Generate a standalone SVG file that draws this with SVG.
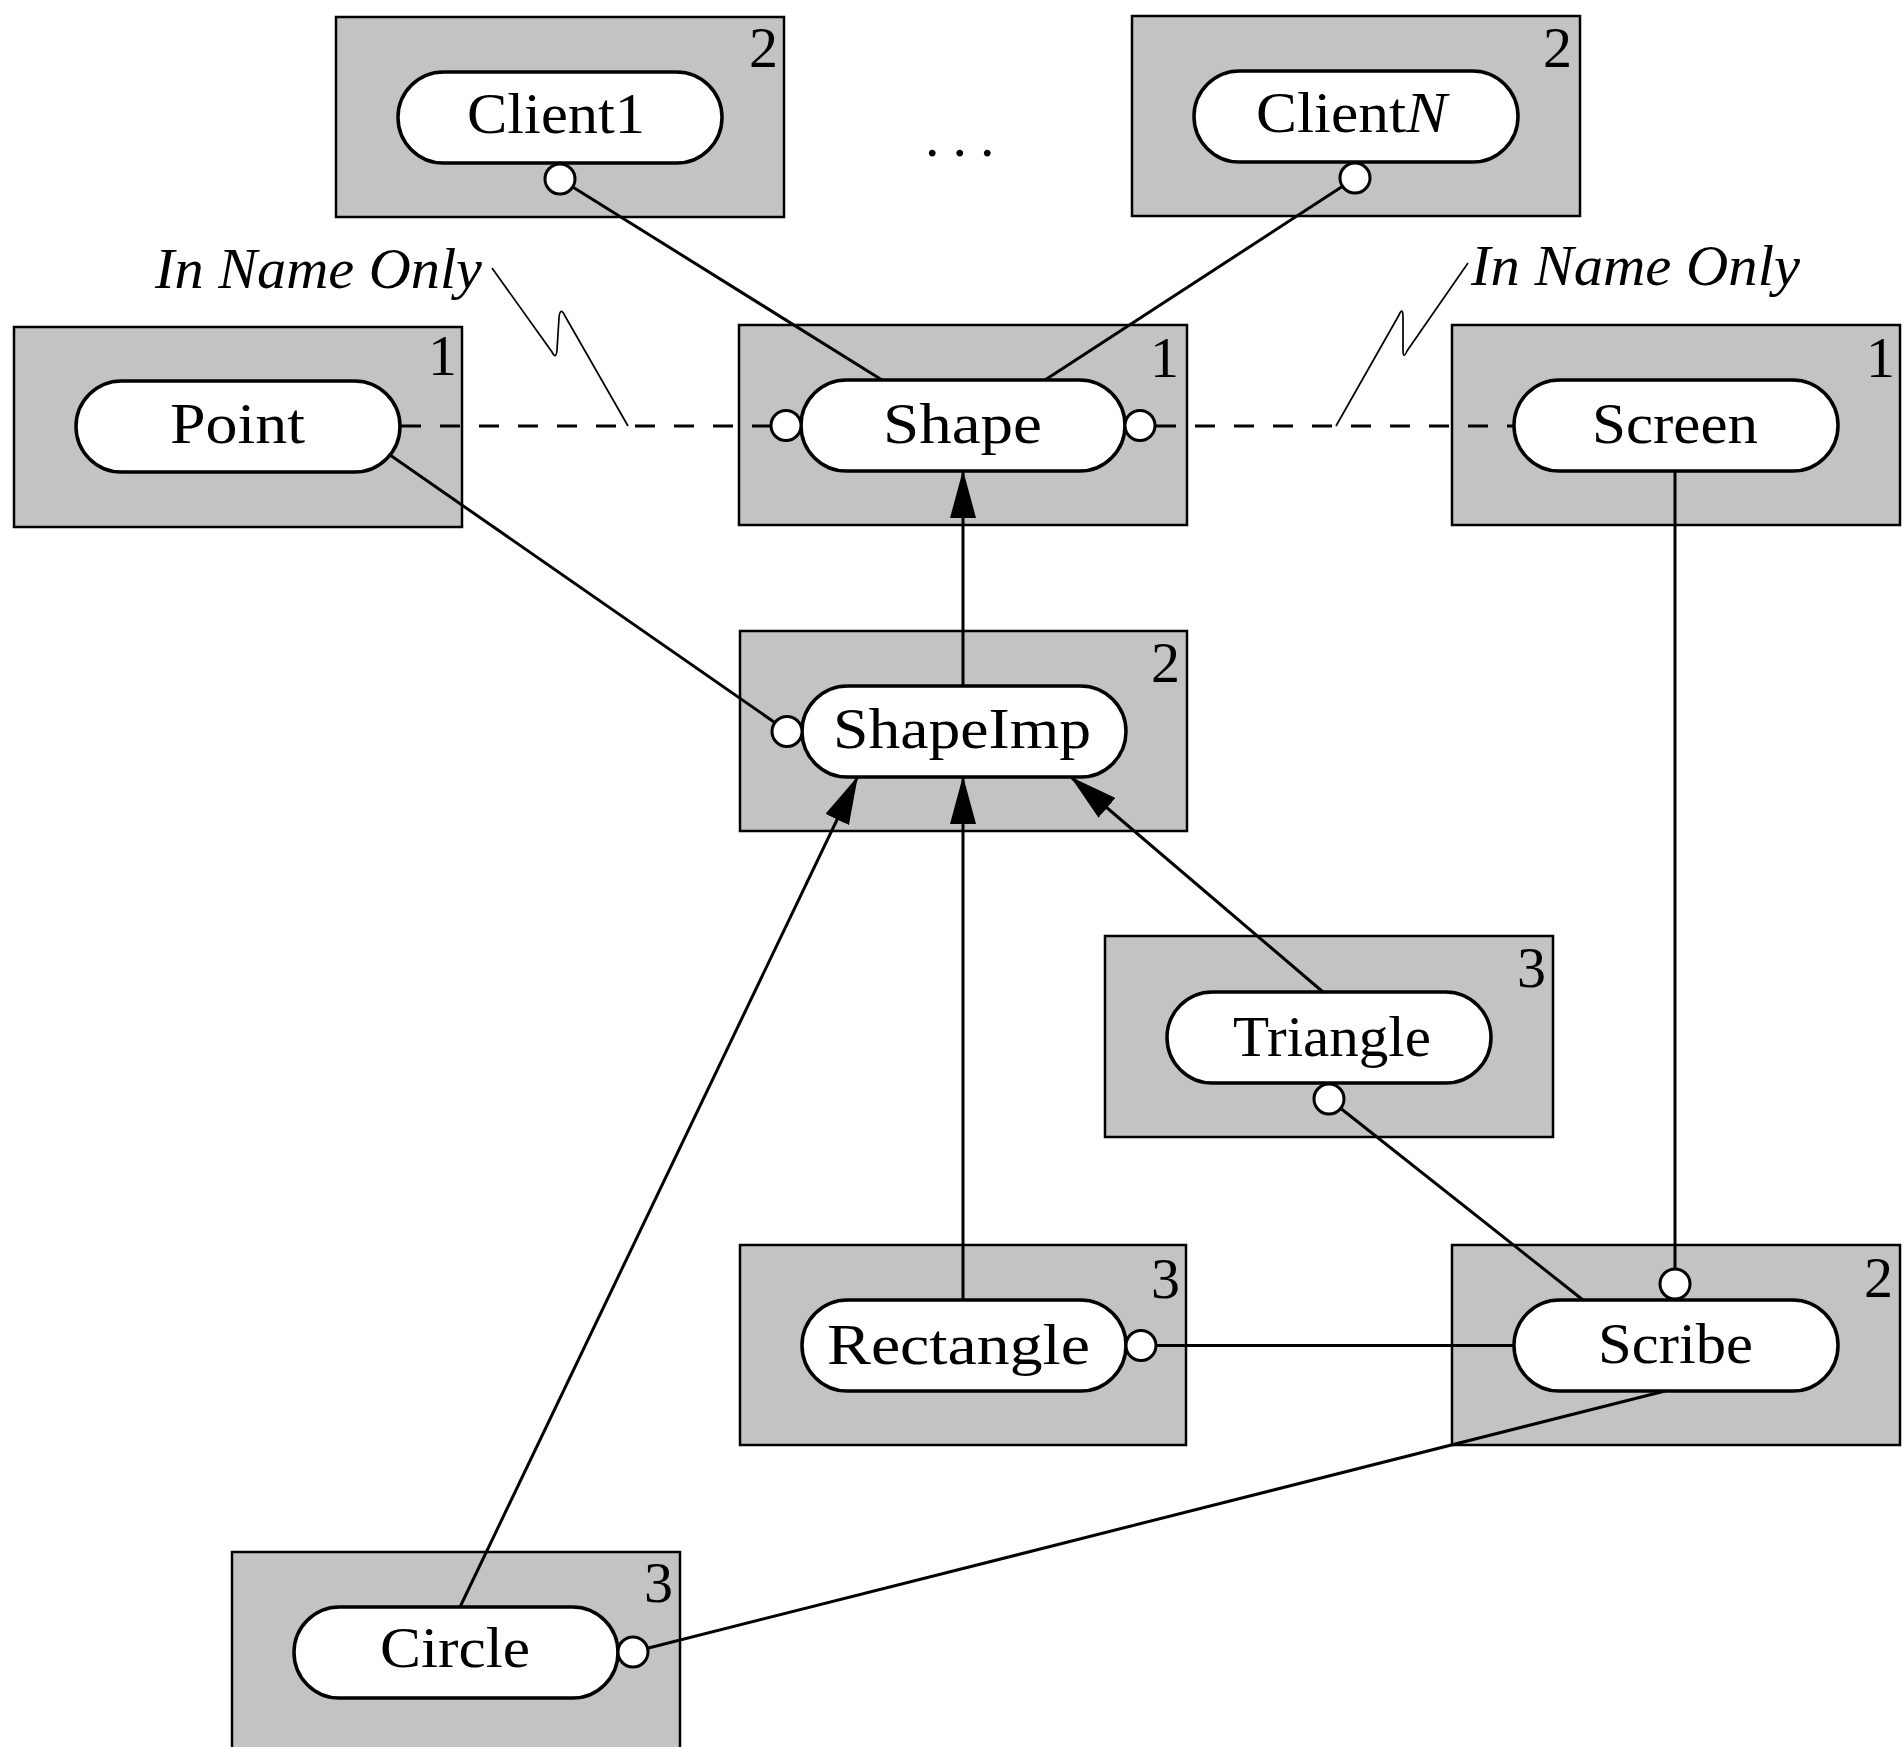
<svg xmlns="http://www.w3.org/2000/svg" width="1904" height="1747" viewBox="0 0 1904 1747">
<style>
.box{fill:#c3c3c3;stroke:#000;stroke-width:2.5}
.pill{fill:#fff;stroke:#000;stroke-width:3.5}
.lol{fill:#fff;stroke:#000;stroke-width:3}
.lbl{font-family:"Liberation Serif",serif;font-size:58px;fill:#000}
.num{font-family:"Liberation Serif",serif;font-size:58px;fill:#000;text-anchor:end}
.note{font-family:"Liberation Serif",serif;font-size:56px;font-style:italic;fill:#000}
.conn{stroke:#000;stroke-width:3;fill:none}
.dash{stroke-dasharray:20 19}
.lead{stroke-width:1.7}
</style>
<defs>
<marker id="arr" markerUnits="userSpaceOnUse" markerWidth="48" markerHeight="26" refX="46" refY="13" orient="auto">
<path d="M0,0 L48,13 L0,26 Z" fill="#000"/>
</marker>
</defs>
<rect width="1904" height="1747" fill="#fff"/>

<g id="client1">
<rect class="box" x="336" y="17" width="448" height="200"/>
<rect class="pill" x="398" y="72" width="324" height="91" rx="45.5"/>
<circle class="lol" cx="560" cy="179" r="15"/>
<text class="lbl" x="467" y="133" textLength="178" lengthAdjust="spacingAndGlyphs">Client1</text>
<text class="num" x="778" y="67">2</text>
</g>

<g id="clientN">
<rect class="box" x="1132" y="16" width="448" height="200"/>
<rect class="pill" x="1194" y="71" width="324" height="91" rx="45.5"/>
<circle class="lol" cx="1355" cy="178" r="15"/>
<text class="lbl" x="1256" y="132" textLength="191" lengthAdjust="spacingAndGlyphs">Client<tspan font-style="italic">N</tspan></text>
<text class="num" x="1572" y="67">2</text>
</g>

<g id="ellipsis">
<text class="lbl" x="925" y="156" letter-spacing="13">...</text>
</g>

<g id="point">
<rect class="box" x="14" y="327" width="448" height="200"/>
<rect class="pill" x="76" y="381" width="324" height="91" rx="45.5"/>
<text class="lbl" x="170" y="443" textLength="135" lengthAdjust="spacingAndGlyphs">Point</text>
<text class="num" x="457" y="375">1</text>
</g>

<g id="shape">
<rect class="box" x="739" y="325" width="448" height="200"/>
<rect class="pill" x="801" y="380" width="324" height="91" rx="45.5"/>
<circle class="lol" cx="786" cy="425.5" r="15"/>
<circle class="lol" cx="1140" cy="425.5" r="15"/>
<text class="lbl" x="883" y="443" textLength="159" lengthAdjust="spacingAndGlyphs">Shape</text>
<text class="num" x="1179" y="377">1</text>
</g>

<g id="screen">
<rect class="box" x="1452" y="325" width="448" height="200"/>
<rect class="pill" x="1514" y="380" width="324" height="91" rx="45.5"/>
<text class="lbl" x="1592" y="443" textLength="166" lengthAdjust="spacingAndGlyphs">Screen</text>
<text class="num" x="1895" y="377">1</text>
</g>

<g id="shapeImp">
<rect class="box" x="740" y="631" width="447" height="200"/>
<rect class="pill" x="802" y="686" width="324" height="91" rx="45.5"/>
<circle class="lol" cx="787" cy="731.5" r="15"/>
<text class="lbl" x="833" y="748" textLength="258" lengthAdjust="spacingAndGlyphs">ShapeImp</text>
<text class="num" x="1180" y="682">2</text>
</g>

<g id="triangle">
<rect class="box" x="1105" y="936" width="448" height="201"/>
<rect class="pill" x="1167" y="992" width="324" height="91" rx="45.5"/>
<circle class="lol" cx="1329" cy="1099" r="15"/>
<text class="lbl" x="1233" y="1056" textLength="198" lengthAdjust="spacingAndGlyphs">Triangle</text>
<text class="num" x="1546" y="987">3</text>
</g>

<g id="rectangle">
<rect class="box" x="740" y="1245" width="446" height="200"/>
<rect class="pill" x="802" y="1300" width="324" height="91" rx="45.5"/>
<circle class="lol" cx="1141" cy="1345.5" r="15"/>
<text class="lbl" x="827" y="1364" textLength="263" lengthAdjust="spacingAndGlyphs">Rectangle</text>
<text class="num" x="1180" y="1298">3</text>
</g>

<g id="scribe">
<rect class="box" x="1452" y="1245" width="448" height="200"/>
<rect class="pill" x="1514" y="1300" width="324" height="91" rx="45.5"/>
<circle class="lol" cx="1675" cy="1284" r="15"/>
<text class="lbl" x="1598" y="1363" textLength="155" lengthAdjust="spacingAndGlyphs">Scribe</text>
<text class="num" x="1893" y="1297">2</text>
</g>

<g id="circle">
<rect class="box" x="232" y="1552" width="448" height="210"/>
<rect class="pill" x="294" y="1607" width="324" height="91" rx="45.5"/>
<circle class="lol" cx="633" cy="1652" r="15"/>
<text class="lbl" x="380" y="1667" textLength="150" lengthAdjust="spacingAndGlyphs">Circle</text>
<text class="num" x="673" y="1602">3</text>
</g>

<g id="notes">
<text class="note" x="155" y="288" textLength="327" lengthAdjust="spacingAndGlyphs">In Name Only</text>
<text class="note" x="1471" y="285" textLength="329" lengthAdjust="spacingAndGlyphs">In Name Only</text>
</g>

<g id="connectors">
<path class="conn" d="M573.5,187.5 L882,380"/>
<path class="conn" d="M1341.5,187 L1045,380"/>
<path class="conn dash" d="M401,426 L770,426"/>
<path class="conn dash" d="M1156,426 L1514,426"/>
<path class="conn lead" d="M492,268 L552,352 Q556,360 557,350 L559,318 Q560,306 565,316 L628,426"/>
<path class="conn lead" d="M1468,263 L1407,351 Q1403,360 1403,350 L1403,318 Q1403,306 1399,315 L1336,426"/>
<path class="conn" d="M963,686 L963,472" marker-end="url(#arr)"/>
<path class="conn" d="M1675,471 L1675,1268"/>
<path class="conn" d="M390,455 L774,722"/>
<path class="conn" d="M963,1300 L963,778" marker-end="url(#arr)"/>
<path class="conn" d="M460,1607 L857,778" marker-end="url(#arr)"/>
<path class="conn" d="M1323,992 L1072,778" marker-end="url(#arr)"/>
<path class="conn" d="M1341.5,1109 L1583,1300"/>
<path class="conn" d="M1157,1345.5 L1514,1345.5"/>
<path class="conn" d="M1665,1391 L648.5,1648"/>
</g>
</svg>
